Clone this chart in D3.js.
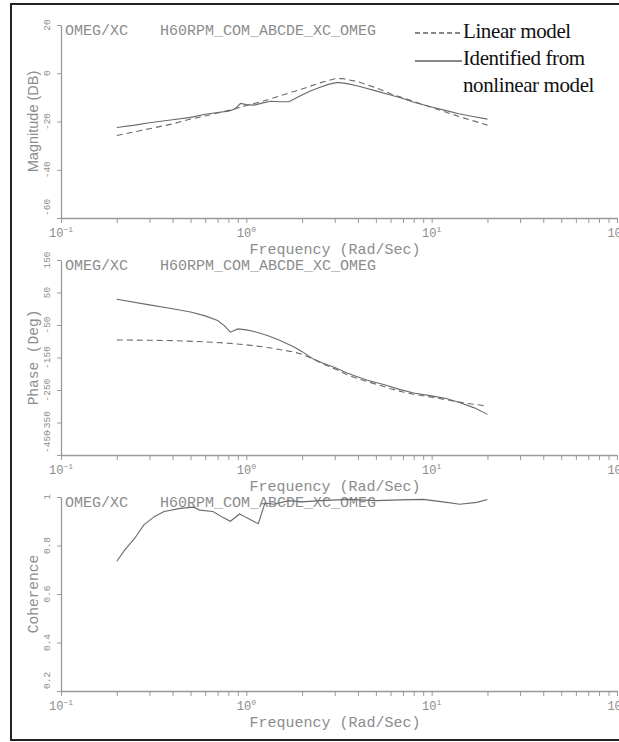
<!DOCTYPE html>
<html>
<head>
<meta charset="utf-8">
<script src="https://cdn.jsdelivr.net/npm/d3@7"></script>
<style>
  html, body { margin: 0; padding: 0; background: #fff; }
  svg { display: block; }
</style>
</head>
<body>
<svg id="chart" width="619" height="742"></svg>
<script>
// ---- data ----------------------------------------------------------------
const headerLeft = "OMEG/XC";
const headerRight = "H60RPM_COM_ABCDE_XC_OMEG";
const xTickDecades = [-1, 0, 1, 2];

// magnitude (dB)
const magFreqLin = [0.2, 0.3, 0.4, 0.5, 0.6, 0.7, 0.8, 1.0, 1.2, 1.5, 2.0, 2.5, 3.0, 3.3, 4, 5, 6, 7, 8, 10, 12, 15, 20];
const magLinear  = [-25.8, -23, -21, -19, -17.7, -16.5, -15.4, -13.4, -11.8, -9.5, -6.5, -4, -2.3, -2.2, -3.5, -6, -8.5, -10.2, -11.7, -14.2, -16.2, -18.6, -21.5];
const magFreqId  = [0.2, 0.25, 0.3, 0.4, 0.5, 0.6, 0.7, 0.8, 0.87, 0.93, 1.0, 1.1, 1.2, 1.35, 1.5, 1.7, 1.9, 2.2, 2.5, 2.8, 3.1, 3.5, 4, 5, 6, 7, 8, 10, 12, 14, 17, 20];
const magIdent   = [-22.5, -21.5, -20.5, -19.3, -18.3, -17, -16.3, -15.7, -14.8, -12.5, -13, -13.2, -12.5, -11.6, -11.8, -11.8, -9.8, -7.5, -5.8, -4.5, -3.8, -4.3, -5.3, -7.3, -9, -10.5, -12, -14, -15.5, -16.8, -18, -19];
const magTicks   = [20, 0, -20, -40, -60];

// phase (deg)
const phFreqLin  = [0.2, 0.3, 0.4, 0.56, 0.8, 1.0, 1.3, 1.57, 1.8, 2.0, 2.3, 2.6, 3, 3.5, 4, 5, 6, 7, 8, 10, 12, 15, 18.6, 20];
const phLinear   = [-96, -97, -98, -101, -106, -111, -119, -127, -133, -140, -155, -170, -185, -203, -215, -232, -246, -256, -263, -272, -280, -290, -297, -300];
const phFreqId   = [0.2, 0.3, 0.4, 0.5, 0.6, 0.7, 0.76, 0.82, 0.9, 1.0, 1.1, 1.3, 1.5, 1.8, 2.0, 2.3, 2.6, 3, 3.5, 4, 4.5, 5.5, 6.7, 8, 10, 12, 14, 17, 20];
const phIdent    = [29, 12, 0, -10, -22, -36, -52, -72, -62, -65, -70, -82, -96, -117, -132, -155, -168, -181, -198, -210, -220, -233, -248, -259, -268, -276, -288, -305, -325];
const phTicks    = [150, 50, -50, -150, -250, -350, -450];

// coherence
const cohFreq    = [0.2, 0.22, 0.25, 0.28, 0.32, 0.36, 0.44, 0.52, 0.56, 0.66, 0.75, 0.82, 0.92, 1.0, 1.16, 1.26, 1.4, 1.7, 2, 2.5, 3.6, 5, 6.7, 9, 11.5, 14.2, 17.5, 20];
const cohValues  = [0.735, 0.78, 0.83, 0.885, 0.92, 0.94, 0.953, 0.958, 0.946, 0.94, 0.915, 0.9, 0.93, 0.915, 0.89, 0.975, 0.97, 0.985, 0.98, 0.985, 0.99, 0.985, 0.988, 0.99, 0.98, 0.97, 0.978, 0.99];
const cohTicks   = [1, 0.8, 0.6, 0.4, 0.2];

const legendLabels = ["Linear model", "Identified from", "nonlinear model"];

// ---- drawing ---------------------------------------------------------------
const svg = d3.select("#chart");
const mono = "'Liberation Mono', 'Courier New', monospace";
const axisGrey = "#999";
const textGrey = "#8c8c8c";
const lineGrey = "#6a6a6a";

// outer frame
svg.append("rect")
  .attr("x", 11).attr("y", 4).attr("width", 640).attr("height", 736)
  .attr("fill", "none").attr("stroke", "#222").attr("stroke-width", 2);

const x = d3.scaleLog().domain([0.1, 100]).range([61, 617]);

const panels = [
  { top: 25,  bottom: 218, domain: [-60, 20],   ticks: magTicks, fmt: d => String(d), title: "Magnitude (DB)", titleFont: "'Liberation Sans', Arial, sans-serif",
    series: [ { f: magFreqLin, v: magLinear, dash: "6,4" }, { f: magFreqId, v: magIdent, dash: null } ] },
  { top: 260, bottom: 455, domain: [-450, 150], ticks: phTicks, fmt: d => String(d), title: "Phase (Deg)", titleFont: mono,
    series: [ { f: phFreqLin, v: phLinear, dash: "6,4" }, { f: phFreqId, v: phIdent, dash: null } ] },
  { top: 497, bottom: 691, domain: [0.2, 1],    ticks: cohTicks, fmt: d => (d === 1 ? "1" : d.toFixed(1)), title: "Coherence", titleFont: mono,
    series: [ { f: cohFreq, v: cohValues, dash: null } ] }
];

const minorTicks = [];
[-1, 0, 1].forEach(e => { for (let k = 1; k <= 9; k++) minorTicks.push(k * Math.pow(10, e)); });
minorTicks.push(100);

panels.forEach(p => {
  const y = d3.scaleLinear().domain(p.domain).range([p.bottom, p.top]);
  const g = svg.append("g");

  // x axis (ticks pointing down)
  const xAxis = d3.axisBottom(x).tickValues(minorTicks).tickFormat("").tickSizeOuter(0).tickSizeInner(5);
  const gx = g.append("g").attr("transform", `translate(0,${p.bottom})`).call(xAxis);
  gx.select(".domain").attr("stroke", axisGrey).attr("stroke-width", 1.3);
  gx.selectAll(".tick line").attr("stroke", axisGrey);

  // y axis (ticks pointing left)
  const yAxis = d3.axisLeft(y).tickValues(p.ticks).tickFormat("").tickSizeOuter(0).tickSizeInner(4);
  const gy = g.append("g").attr("transform", `translate(${x(0.1)},0)`).call(yAxis);
  gy.select(".domain").attr("stroke", axisGrey).attr("stroke-width", 1.3);
  gy.selectAll(".tick line").attr("stroke", axisGrey);

  // rotated y tick labels
  const lowest = d3.min(p.ticks);
  p.ticks.forEach(t => {
    const isBottom = t === lowest;
    g.append("text")
      .attr("transform", `translate(50,${isBottom ? y(t) - 2 : y(t)}) rotate(-90)`)
      .attr("text-anchor", isBottom ? "start" : "middle")
      .attr("font-family", mono).attr("font-size", 9.5)
      .attr("fill", textGrey)
      .text(p.fmt(t));
  });

  // y title
  g.append("text")
    .attr("transform", `translate(38,${(p.top + p.bottom) / 2}) rotate(-90)`)
    .attr("text-anchor", "middle")
    .attr("font-family", p.titleFont).attr("font-size", 14.5)
    .attr("fill", textGrey)
    .text(p.title);

  // x tick labels 10^n
  xTickDecades.forEach(e => {
    const t = g.append("text")
      .attr("x", x(Math.pow(10, e))).attr("y", p.bottom + 19)
      .attr("text-anchor", "middle")
      .attr("font-family", mono).attr("font-size", 12)
      .attr("fill", textGrey);
    t.append("tspan").text("10");
    t.append("tspan").attr("dy", -5).attr("font-size", 8).text(String(e).replace("-", "\u2212"));
  });

  // x title
  g.append("text")
    .attr("x", 335).attr("y", p.bottom + 36)
    .attr("text-anchor", "middle")
    .attr("font-family", mono).attr("font-size", 15)
    .attr("fill", textGrey)
    .text("Frequency (Rad/Sec)");

  // header
  g.append("text").attr("x", 65).attr("y", p.top + 10)
    .attr("font-family", mono).attr("font-size", 15).attr("fill", textGrey).text(headerLeft);
  g.append("text").attr("x", 160).attr("y", p.top + 10)
    .attr("font-family", mono).attr("font-size", 15).attr("fill", textGrey).text(headerRight);

  // data series
  const line = d3.line().x(d => x(d[0])).y(d => y(d[1]));
  p.series.forEach(s => {
    g.append("path")
      .datum(d3.zip(s.f, s.v))
      .attr("d", line)
      .attr("fill", "none")
      .attr("stroke", lineGrey)
      .attr("stroke-width", 1.1)
      .attr("stroke-dasharray", s.dash);
  });
});

// legend
const lg = svg.append("g");
lg.append("line").attr("x1", 415).attr("x2", 461).attr("y1", 33).attr("y2", 33)
  .attr("stroke", "#111").attr("stroke-width", 1.2).attr("stroke-dasharray", "5,3");
lg.append("line").attr("x1", 415).attr("x2", 462).attr("y1", 61).attr("y2", 61)
  .attr("stroke", "#111").attr("stroke-width", 1.2);
const serif = "'Liberation Serif', 'Times New Roman', serif";
[38, 65, 92].forEach((by, i) => {
  lg.append("text").attr("x", 463).attr("y", by)
    .attr("font-family", serif).attr("font-size", 21)
    .attr("fill", "#111").attr("letter-spacing", -0.4)
    .text(legendLabels[i]);
});
</script>
</body>
</html>
